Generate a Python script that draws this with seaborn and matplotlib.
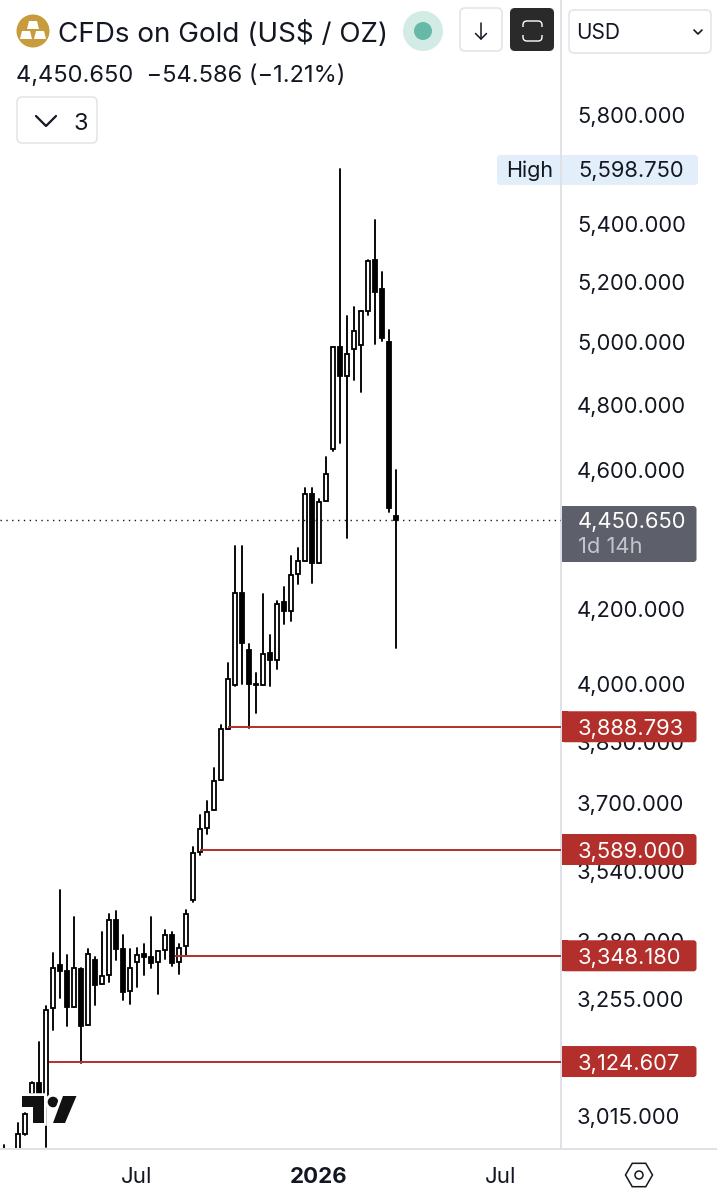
import matplotlib
matplotlib.use('Agg')
import matplotlib.pyplot as plt
import matplotlib.patches as mp
import matplotlib.patheffects as pe
import pandas as pd
import seaborn as sns

# weekly candles, week number counted from the first week of 2026
week = list(range(-45, 12))
open_ = [2900, 2910, 2927, 2980, 3059, 3081, 3044, 3235, 3329, 3314, 3237, 3320, 3200, 3338, 3286, 3307, 3428, 3362, 3271,
         3334, 3352, 3346, 3335, 3360, 3395, 3334, 3369, 3472, 3584, 3639, 3683, 3755, 3884, 3996, 4245, 4089, 3999, 3997,
         4081, 4062, 4219, 4194, 4297, 4335, 4528, 4329, 4506, 4663, 4984, 4890, 4979, 4992, 5103, 5276, 5177, 5000, 4464]
close = [2930, 2940, 2980, 3020, 3081, 3059, 3232, 3322, 3315, 3237, 3322, 3199, 3352, 3285, 3305, 3428, 3364, 3270, 3321,
         3350, 3346, 3333, 3358, 3394, 3333, 3365, 3442, 3581, 3637, 3679, 3753, 3882, 4013, 4245, 4108, 3999, 3997, 4078,
         4061, 4213, 4194, 4293, 4333, 4528, 4329, 4504, 4588, 4984, 4890, 4962, 5038, 5102, 5274, 5166, 5013, 4487, 4450.65]
high = [2958, 2945, 3001, 3021, 3084, 3164, 3241, 3354, 3496, 3349, 3434, 3322, 3362, 3346, 3400, 3442, 3447, 3395, 3362,
        3365, 3373, 3434, 3358, 3406, 3401, 3374, 3451, 3595, 3671, 3705, 3786, 3893, 4055, 4375, 4375, 4105, 4027, 4241,
        4130, 4222, 4260, 4349, 4371, 4544, 4545, 4512, 4640, 4984, 5598.75, 5087, 5115, 5102, 5275, 5415, 5235, 5041, 4598]
low = [2890, 2900, 2927, 2978, 3057, 3057, 2955, 3190, 3257, 3199, 3237, 3121, 3200, 3243, 3286, 3291, 3338, 3253, 3244,
       3281, 3307, 3322, 3265, 3342, 3326, 3309, 3349, 3468, 3576, 3625, 3683, 3755, 3884, 3994, 4000, 3885, 3925, 3997,
       3995, 4038, 4160, 4166, 4269, 4335, 4272, 4329, 4506, 4656, 4680, 4398, 4877, 4839, 5091, 4995, 5005, 4474, 4095]

price_ticks = [5800, 5400, 5200, 5000, 4800, 4600, 4200, 4000, 3850, 3700, 3540, 3380, 3255, 3015]
date_ticks = [-26, 0, 26]
date_labels = ['Jul', '2026', 'Jul']

levels = [3888.793, 3589.0, 3348.18, 3124.607]
level_start = [-13, -17, -20.5, -38.5]

last_price = 4450.65
high_price = 5598.75

INK = '#131722'
RED = '#b22f2b'
GRID = '#e0e1e6'

sns.set_theme(style='white')
plt.rcParams['font.family'] = ['Inter', 'DejaVu Sans']

df = pd.DataFrame({'week': week, 'open': open_, 'close': close, 'high': high, 'low': low})
df['bottom'] = df[['open', 'close']].min(axis=1)
df['height'] = (df['close'] - df['open']).abs()
wicks = df.melt(id_vars='week', value_vars=['high', 'low'], value_name='price')

fig = plt.figure(figsize=(7.17, 12), dpi=100)
ax = fig.add_axes([0, 51 / 1200, 561 / 717, 1149 / 1200])
ax.set_yscale('log')

sns.lineplot(data=wicks, x='week', y='price', units='week', estimator=None, color='black',
             linewidth=1.35, zorder=1, ax=ax, legend=False)

up = df[df['close'] >= df['open']]
down = df[df['close'] < df['open']]
sns.barplot(data=up, x='week', y='height', bottom=up['bottom'].values, native_scale=True, width=4 / 7, errorbar=None,
            color='white', saturation=1, edgecolor='black', linewidth=1.3, zorder=2, ax=ax)
sns.barplot(data=down, x='week', y='height', bottom=down['bottom'].values, native_scale=True, width=4 / 7, errorbar=None,
            color='black', saturation=1, edgecolor='black', linewidth=1.3, zorder=2, ax=ax)

ax.hlines(levels, level_start, 40, color=RED, linewidth=1.4, zorder=3)
ax.axhline(last_price, color=INK, linewidth=1.0, linestyle=(0, (1, 3.2)), zorder=3)

ax.set_xlim(-45.57, 34.57)
ax.set_ylim(2951, 6253)
ax.set_xlabel('')
ax.set_ylabel('')
ax.yaxis.tick_right()
ax.minorticks_off()
ax.set_yticks(price_ticks, [f'{p:,.3f}' for p in price_ticks])
ax.set_xticks(date_ticks, date_labels)
ax.tick_params(axis='y', length=0, pad=11.5, labelsize=15.8, labelcolor=INK)
ax.tick_params(axis='x', length=0, pad=13, labelsize=16, labelcolor=INK)
ax.get_xticklabels()[1].set_fontweight('bold')
for s in ['top', 'left']:
    ax.spines[s].set_visible(False)
for s in ['right', 'bottom']:
    ax.spines[s].set_color(GRID)
    ax.spines[s].set_linewidth(1.4)

# toolbar and price tags, in pixel coordinates of the image
ui = fig.add_axes([0, 0, 1, 1], facecolor='none')
ui.set_xlim(0, 717)
ui.set_ylim(1200, 0)
ui.axis('off')


def to_px(price):
    return 1200 - ax.transData.transform((0, price))[1]


def box(x0, y0, x1, y1, fc='white', ec='#e4e5e8', lw=1.2, r=5):
    ui.add_patch(mp.FancyBboxPatch((x0 + r, y0 + r), x1 - x0 - 2 * r, y1 - y0 - 2 * r,
                                   boxstyle=f'round,pad={r},rounding_size={r}', fc=fc, ec=ec, lw=lw))


def tag(y0, y1, color):
    box(562, y0, 696.5, y1, fc=color, ec='none', r=3)
    ui.add_patch(mp.Rectangle((562, y0), 6, y1 - y0, fc=color, ec='none'))


# bottom rule under the price scale
ui.plot([561, 717], [1149, 1149], color=GRID, lw=1.4)

# logo
logo = [mp.Polygon([(22, 1096), (44, 1096), (44, 1123), (33, 1123), (33, 1107), (22, 1107)]),
        mp.Circle((53, 1102), 5.3),
        mp.Polygon([(63, 1096), (76.5, 1096), (65, 1123), (53, 1123)])]
for shape in logo:
    shape.set(fc='#111111', ec='none', path_effects=[pe.withStroke(linewidth=4, foreground='white')])
    ui.add_patch(shape)

# header
ui.add_patch(mp.Circle((33, 31), 16.5, fc='#c89b3c', ec='none'))
for x0, y0, w in [(27, 21, 12), (20, 31, 12), (34, 31, 12)]:
    ui.add_patch(mp.Polygon([(x0 + 2, y0), (x0 + w - 2, y0), (x0 + w, y0 + 8), (x0, y0 + 8)], fc='white', ec='none'))
ui.text(58, 31, 'CFDs on Gold (US$ / OZ)', fontsize=20, color=INK, va='center_baseline')
ui.add_patch(mp.Circle((423, 31), 20, fc='#d3ebe5', ec='none'))
ui.add_patch(mp.Circle((423, 31), 9, fc='#66b9a7', ec='none'))
box(460, 8, 502, 51)
ui.plot([481, 481], [23, 39], color=INK, lw=1.1)
ui.plot([475.5, 481, 486.5], [33.5, 39, 33.5], color=INK, lw=1.1)
box(510, 8, 554, 51, fc='#2a2a2a', ec='none')
box(523, 21, 542, 41, fc='none', ec='white', lw=1.0, r=4)
ui.add_patch(mp.Rectangle((521, 27), 23, 8, fc='#2a2a2a', ec='none'))
box(569, 10, 711, 53)
ui.text(576, 31, 'USD', fontsize=15, color=INK, va='center_baseline')
ui.plot([694, 698, 702], [30, 34, 30], color=INK, lw=1.2)

ui.text(16, 73, '4,450.650  \u221254.586 (\u22121.21%)', fontsize=17, color=INK, va='center_baseline')
box(17, 97, 97, 143)
ui.plot([36, 46, 56], [116, 126, 116], color=INK, lw=1.6)
ui.text(81, 121, '3', fontsize=17, color=INK, ha='center', va='center_baseline')

# high label
box(497, 155, 698, 185, fc='#e3eefb', ec='none', r=3)
ui.plot([561, 561], [155, 185], color=GRID, lw=1.4)
ui.text(506, 169, 'High', fontsize=15.5, color=INK, va='center_baseline')
ui.text(578, 169, f'{high_price:,.3f}', fontsize=15.8, color=INK, va='center_baseline')

# last price label
tag(506, 562, '#5d606b')
ui.text(578, 520, f'{last_price:,.3f}', fontsize=15.8, color='white', va='center_baseline')
ui.text(578, 545, '1d 14h', fontsize=15.8, color='#c3c5cb', va='center_baseline')

# level labels
for price in levels:
    y = to_px(price)
    tag(y - 15.5, y + 15.5, RED)
    ui.text(578, y, f'{price:,.3f}', fontsize=15.8, color='white', va='center_baseline')

# settings icon
ui.add_patch(mp.RegularPolygon((639, 1175), 6, radius=13.5, orientation=3.14159 / 6, fc='none', ec=INK, lw=1.1))
ui.add_patch(mp.Circle((639, 1175), 4, fc='none', ec=INK, lw=1.1))

fig.savefig('out.png', dpi=100)
